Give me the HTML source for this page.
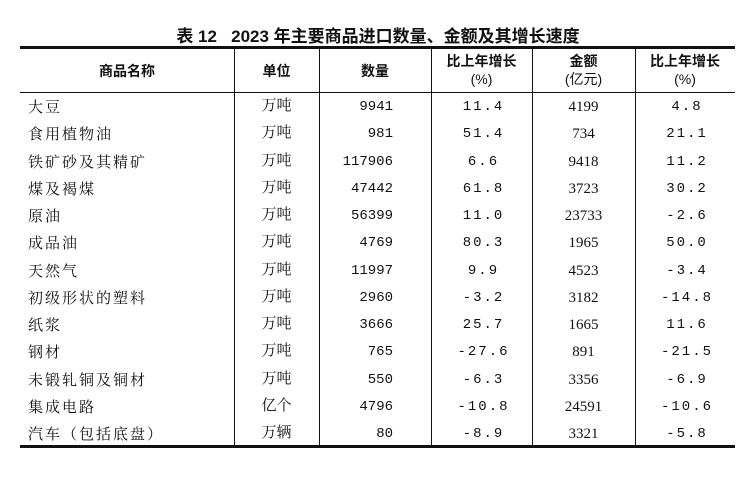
<!DOCTYPE html>
<html><head><meta charset="utf-8"><style>
body{margin:0;width:756px;height:482px;background:#fff;position:relative;overflow:hidden;font-family:"Liberation Serif","Noto Serif CJK SC",serif;color:#111}
.t{position:absolute;top:22px;left:0;width:756px;text-align:center;font:bold 17px "Liberation Sans","Noto Sans CJK SC",sans-serif}
.h{position:absolute;background:#111}
.c{position:absolute;font-size:15px;line-height:16px;white-space:nowrap}
.m{font-family:"Liberation Mono",monospace;font-size:14px}
.hd{font-family:"Liberation Sans","Noto Sans CJK SC",sans-serif;font-weight:bold;font-size:14px;text-align:center;position:absolute;line-height:18px}
</style></head><body>
<div class="t">表 12&nbsp;&nbsp;&nbsp;2023 年主要商品进口数量、金额及其增长速度</div>
<div class="h" style="left:20px;top:46px;width:715px;height:3px"></div>
<div class="h" style="left:20px;top:92px;width:715px;height:1px"></div>
<div class="h" style="left:20px;top:445px;width:715px;height:3px"></div>
<div class="h" style="left:234px;top:48px;width:1px;height:398px"></div>
<div class="h" style="left:319px;top:48px;width:1px;height:398px"></div>
<div class="h" style="left:431px;top:48px;width:1px;height:398px"></div>
<div class="h" style="left:532px;top:48px;width:1px;height:398px"></div>
<div class="h" style="left:635px;top:48px;width:1px;height:398px"></div>
<div class="hd" style="left:20px;width:214px;top:62px">商品名称</div>
<div class="hd" style="left:234px;width:85px;top:62px">单位</div>
<div class="hd" style="left:319px;width:112px;top:62px">数量</div>
<div class="hd" style="left:431px;width:101px;top:52px">比上年增长<br><span style="font-weight:normal">(%)</span></div>
<div class="hd" style="left:532px;width:103px;top:52px">金额<br><span style="font-weight:normal">(亿元)</span></div>
<div class="hd" style="left:635px;width:100px;top:52px">比上年增长<br><span style="font-weight:normal">(%)</span></div>
<div id="rows"></div>
<script>
var d=[["大豆","万吨","9941","11.4","4199","4.8"],["食用植物油","万吨","981","51.4","734","21.1"],["铁矿砂及其精矿","万吨","117906","6.6","9418","11.2"],["煤及褐煤","万吨","47442","61.8","3723","30.2"],["原油","万吨","56399","11.0","23733","-2.6"],["成品油","万吨","4769","80.3","1965","50.0"],["天然气","万吨","11997","9.9","4523","-3.4"],["初级形状的塑料","万吨","2960","-3.2","3182","-14.8"],["纸浆","万吨","3666","25.7","1665","11.6"],["钢材","万吨","765","-27.6","891","-21.5"],["未锻轧铜及铜材","万吨","550","-6.3","3356","-6.9"],["集成电路","亿个","4796","-10.8","24591","-10.6"],["汽车（包括底盘）","万辆","80","-8.9","3321","-5.8"]];
var h="";d.forEach(function(r,i){var y=99+i*27.25;
h+='<div class="c" style="left:28px;top:'+(y+1)+'px;letter-spacing:2px">'+r[0]+'</div>';
h+='<div class="c" style="left:234px;width:85px;text-align:center;top:'+(y-1)+'px">'+r[1]+'</div>';
h+='<div class="c m" style="left:319px;width:74px;text-align:right;top:'+y+'px">'+r[2]+'</div>';
h+='<div class="c m" style="left:433px;width:101px;text-align:center;top:'+y+'px;letter-spacing:2px">'+r[3]+'</div>';
h+='<div class="c" style="left:532px;width:103px;text-align:center;top:'+y+'px">'+r[4]+'</div>';
h+='<div class="c m" style="left:637px;width:100px;text-align:center;top:'+y+'px;letter-spacing:2px">'+r[5]+'</div>';});
document.getElementById("rows").innerHTML=h;
</script>
</body></html>
